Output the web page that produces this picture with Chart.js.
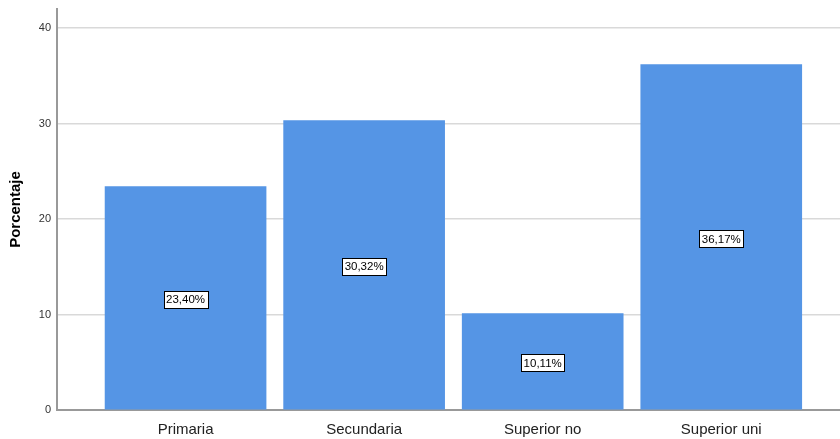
<!DOCTYPE html>
<html>
<head>
<meta charset="utf-8">
<script src="https://cdn.jsdelivr.net/npm/chart.js@4/dist/chart.umd.min.js"></script>
<style>
html, body { margin: 0; padding: 0; background: #fff; }
#wrap { width: 840px; height: 439px; }
</style>
</head>
<body>
<div id="wrap"><canvas id="c"></canvas></div>
<script>
const categories = ['Primaria', 'Secundaria', 'Superior no', 'Superior uni'];
const percentages = [23.40, 30.32, 10.11, 36.17];
const yTicks = [0, 10, 20, 30, 40];

function fmtPct(v) {
    return v.toFixed(2).replace('.', ',') + '%';
}

// white boxed value labels in the middle of each bar
const boxLabels = {
    id: 'boxLabels',
    afterDatasetsDraw(chart) {
        const ctx = chart.ctx;
        const xs = chart.scales.x, ys = chart.scales.y;
        ctx.save();
        ctx.font = '11.5px "Liberation Sans", Arial, sans-serif';
        ctx.textAlign = 'center';
        ctx.textBaseline = 'middle';
        percentages.forEach((v, i) => {
            const x = xs.getPixelForValue(i);
            const y = ys.getPixelForValue(v / 2) + 1;
            const txt = fmtPct(v);
            const w = Math.ceil(ctx.measureText(txt).width) + 4;
            const h = 17;
            const bx = Math.round(x - w / 2) + 0.5, by = Math.round(y - h / 2) + 0.5;
            ctx.fillStyle = '#fff';
            ctx.fillRect(bx, by, w, h);
            ctx.strokeStyle = '#000';
            ctx.lineWidth = 1;
            ctx.strokeRect(bx, by, w, h);
            ctx.fillStyle = '#000';
            ctx.fillText(txt, x, y + 1);
        });
        ctx.restore();
    }
};

new Chart(document.getElementById('c'), {
    type: 'bar',
    data: {
        datasets: [{
            data: percentages.map((v, i) => ({ x: i, y: v })),
            backgroundColor: '#5595e5',
            borderWidth: 0,
            barThickness: 161
        }]
    },
    options: {
        responsive: true,
        maintainAspectRatio: false,
        animation: false,
        layout: { padding: { top: 9, right: 0, left: 0, bottom: 0 } },
        plugins: { legend: { display: false }, tooltip: { enabled: false } },
        scales: {
            x: {
                type: 'linear',
                offset: false,
                min: -0.72,
                max: 3.665,
                afterBuildTicks: s => { s.ticks = categories.map((c, i) => ({ value: i })); },
                afterFit: s => { s.height = 29; s.paddingLeft = 0; s.paddingRight = 0; },
                ticks: {
                    callback: v => categories[v],
                    color: '#222',
                    font: { family: '"Liberation Sans", Arial, sans-serif', size: 15 },
                    padding: 11,
                    maxRotation: 0
                },
                grid: { display: false, drawTicks: false, offset: false },
                border: { color: '#999', width: 2 }
            },
            y: {
                min: 0,
                max: 42,
                afterBuildTicks: s => { s.ticks = yTicks.map(v => ({ value: v })); },
                afterFit: s => { s.width = 57; s.paddingTop = 0; s.paddingBottom = 0; },
                ticks: {
                    color: '#333',
                    font: { family: '"Liberation Sans", Arial, sans-serif', size: 11 },
                    padding: 6
                },
                grid: { color: '#d9d9d9', lineWidth: 1.5, drawTicks: false },
                border: { color: '#999', width: 2 },
                title: {
                    display: true,
                    text: 'Porcentaje',
                    color: '#000',
                    font: { family: '"Liberation Sans", Arial, sans-serif', size: 15, weight: 'bold' },
                    padding: { top: 7, bottom: 0 }
                }
            }
        }
    },
    plugins: [boxLabels]
});
</script>
</body>
</html>
